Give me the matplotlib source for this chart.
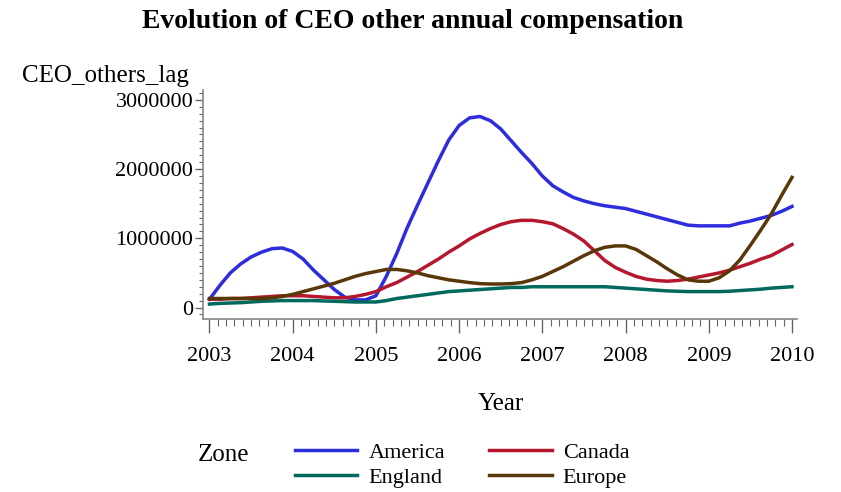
import numpy as np
import matplotlib.pyplot as plt
from matplotlib.ticker import MultipleLocator

plt.rcParams['font.family'] = ['Liberation Serif', 'DejaVu Serif']

# curves every 1/8 year, values in millions
years = np.arange(2003, 2010.001, 0.125)

america = [0.12, 0.32, 0.50, 0.63, 0.73, 0.80, 0.85, 0.86,
           0.81, 0.70, 0.54, 0.40, 0.26, 0.15, 0.11, 0.11,
           0.17, 0.45, 0.78, 1.15, 1.48, 1.80, 2.12, 2.42,
           2.63, 2.74, 2.76, 2.70, 2.58, 2.41, 2.24, 2.08,
           1.90, 1.76, 1.67, 1.59, 1.54, 1.50, 1.47, 1.45,
           1.43, 1.39, 1.35, 1.31, 1.27, 1.23, 1.19, 1.18,
           1.18, 1.18, 1.18, 1.22, 1.25, 1.29, 1.33, 1.39,
           1.46]
canada = [0.12, 0.12, 0.13, 0.13, 0.14, 0.15, 0.16, 0.17,
          0.17, 0.17, 0.16, 0.15, 0.14, 0.14, 0.16, 0.19,
          0.23, 0.30, 0.36, 0.44, 0.52, 0.61, 0.70, 0.80,
          0.89, 0.99, 1.07, 1.14, 1.20, 1.24, 1.26, 1.26,
          1.24, 1.21, 1.14, 1.06, 0.96, 0.82, 0.68, 0.58,
          0.51, 0.45, 0.41, 0.39, 0.38, 0.39, 0.41, 0.44,
          0.47, 0.50, 0.54, 0.59, 0.64, 0.70, 0.75, 0.83,
          0.91]
england = [0.05, 0.06, 0.065, 0.07, 0.08, 0.09, 0.095, 0.10,
           0.10, 0.10, 0.10, 0.095, 0.09, 0.085, 0.08, 0.08,
           0.08, 0.10, 0.13, 0.15, 0.17, 0.19, 0.21, 0.23,
           0.24, 0.25, 0.26, 0.27, 0.28, 0.29, 0.29, 0.30,
           0.30, 0.30, 0.30, 0.30, 0.30, 0.30, 0.30, 0.29,
           0.28, 0.27, 0.26, 0.25, 0.24, 0.235, 0.23, 0.23,
           0.23, 0.23, 0.235, 0.245, 0.255, 0.265, 0.28, 0.29,
           0.30]
europe = [0.13, 0.13, 0.13, 0.13, 0.13, 0.13, 0.14, 0.16,
          0.19, 0.23, 0.27, 0.31, 0.35, 0.40, 0.45, 0.49,
          0.52, 0.55, 0.55, 0.53, 0.50, 0.46, 0.43, 0.40,
          0.38, 0.36, 0.345, 0.34, 0.34, 0.345, 0.36, 0.40,
          0.45, 0.52, 0.59, 0.67, 0.75, 0.82, 0.87, 0.89,
          0.89, 0.84, 0.75, 0.66, 0.56, 0.47, 0.40, 0.38,
          0.38, 0.43, 0.53, 0.69, 0.90, 1.12, 1.35, 1.62,
          1.88]

zones = ['America', 'England', 'Canada', 'Europe']
series = {'America': america, 'Canada': canada, 'England': england, 'Europe': europe}
colors = {'America': '#2d2ddc', 'Canada': '#b5182e', 'England': '#00695e', 'Europe': '#5a3708'}

fig = plt.figure(figsize=(8.41, 4.92), dpi=100)
ax = fig.add_axes([203/841, 1-319/492, 594/841, 229/492])

lines = {}
for z in ['America', 'Canada', 'England', 'Europe']:
    lines[z], = ax.plot(years, np.array(series[z]) * 1e6, color=colors[z], lw=2.5,
                        label=z, solid_joinstyle='round')

ax.set_xlim(2002.922, 2010.06)
ax.set_ylim(-166000, 3143000)
ax.xaxis.set_major_locator(MultipleLocator(1))
ax.xaxis.set_minor_locator(MultipleLocator(0.1))
ax.yaxis.set_major_locator(MultipleLocator(1000000))
ax.yaxis.set_minor_locator(MultipleLocator(100000))
ax.xaxis.set_major_formatter(plt.FuncFormatter(lambda v, p: '%d' % round(v)))
ax.yaxis.set_major_formatter(plt.FuncFormatter(lambda v, p: '%d' % round(v)))

for s in ['top', 'right']:
    ax.spines[s].set_visible(False)
for s in ['left', 'bottom']:
    ax.spines[s].set_color('#888888')
    ax.spines[s].set_linewidth(1.2)

ax.tick_params(axis='x', which='major', length=10, width=1, color='#666666',
               labelsize=16, pad=10)
ax.tick_params(axis='x', which='minor', length=5, width=0.8, color='#666666')
ax.tick_params(axis='y', which='major', length=6, width=1, color='#666666',
               labelsize=16, pad=1)
ax.tick_params(axis='y', which='minor', length=3, width=0.8, color='#666666')

fig.text(413/841, 1 - 21/492, 'Evolution of CEO other annual compensation',
         ha='center', va='center', fontsize=20, fontweight='bold')
fig.text(22/841, 1 - 76/492, 'CEO_others_lag', ha='left', va='center', fontsize=18)
fig.text(501/841, 1 - 404/492, 'Year', ha='center', va='center', fontsize=18)
fig.text(198/841, 1 - 455/492, 'Zone', ha='left', va='center', fontsize=18)

fig.legend([lines[z] for z in zones], zones, loc='upper left',
           bbox_to_anchor=(295/841, 1 - 442/492), ncol=2, frameon=False,
           fontsize=16, handlelength=2.8, handletextpad=0.5, columnspacing=2.0,
           labelspacing=0.22, borderpad=0, borderaxespad=0)

fig.savefig('out.png', dpi=100)
